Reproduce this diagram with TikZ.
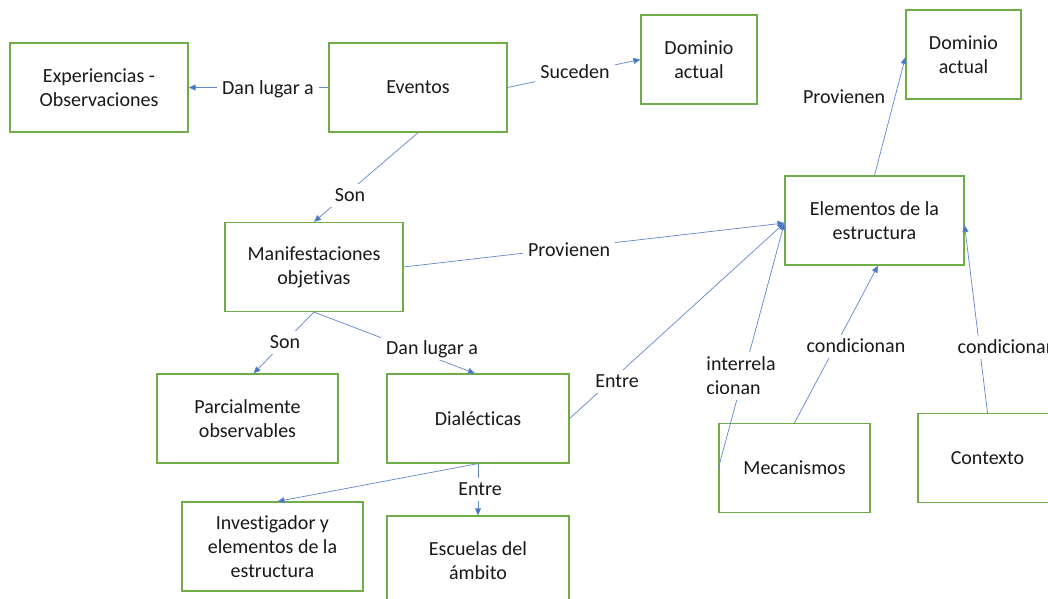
\documentclass[tikz,border=0pt]{standalone}
\usepackage{fontspec}
\setmainfont{Carlito}[Ligatures={NoCommon}]
\usetikzlibrary{arrows.meta,calc}
\definecolor{boxgreen}{HTML}{70AD47}
\definecolor{lineblue}{HTML}{4472C4}
\begin{document}
\begin{tikzpicture}[x=1pt,y=-1pt,
  box/.style={draw=boxgreen,line width=1.2pt,align=center,inner sep=2pt,
    font=\fontsize{20}{24}\selectfont,text=black!90,minimum height=89pt},
  conn/.style={draw=lineblue!85,line width=0.7pt,-{Triangle[length=7pt,width=6pt,fill=lineblue]}},
  lblbase/.style={fill=white,inner sep=5pt,font=\fontsize{20}{24}\selectfont,text=black!90},
  lbl/.style={lblbase,text height=13pt,text depth=0pt}]
\useasboundingbox (0,0) rectangle (1048,598);
\clip (0,0) rectangle (1048,598);
\fill[white] (0,0) rectangle (1048,598);

\node[box,minimum width=178pt] (ex) at (99,87.5) {Experiencias -\\Observaciones};
\node[box,minimum width=178pt] (ev) at (418,87.5) {Eventos};
\node[box,minimum width=116pt] (d1) at (699,59.5) {Dominio\\actual};
\node[box,minimum width=115pt] (d2) at (963.5,54.5) {Dominio\\actual};
\node[box,minimum width=179pt] (el) at (874.5,220.5) {Elementos de la\\estructura};
\node[box,minimum width=178pt] (mf) at (314,267) {Manifestaciones\\objetivas};
\node[box,minimum width=181pt] (pa) at (247.5,418.5) {Parcialmente\\observables};
\node[box,minimum width=182pt] (di) at (478,418.5) {Dialécticas};
\node[box,minimum width=181pt] (iv) at (272.5,546.5) {Investigador y\\elementos de la\\estructura};
\node[box,minimum width=182pt] (es) at (478,560.5) {Escuelas del\\ámbito};
\node[box,minimum width=151pt] (me) at (794.5,468) {Mecanismos};
\node[box,minimum width=139pt] (co) at (987.5,458) {Contexto};

\draw[conn] (ev.west) -- (ex.east);
\draw[conn] (ev.east) -- (d1.west);
\draw[conn] (ev.south) -- (mf.north);
\draw[conn] (mf.east) -- ([yshift=-2.5pt]el.west);
\draw[conn] (mf.south) -- ([xshift=6pt]pa.north);
\draw[conn] (mf.south) -- ([xshift=-3pt]di.north);
\draw[conn] (di.east) -- ([yshift=-2.5pt]el.west);
\draw[conn] (di.south) -- ([xshift=5pt]iv.north);
\draw[conn] (di.south) -- (es.north);
\draw[conn] (me.west) -- ([yshift=-2.5pt]el.west);
\draw[conn] (me.north) -- ([xshift=3.5pt]el.south);
\draw[conn] (co.north) -- ([yshift=-4.5pt]el.east);
\draw[conn] (el.north) -- ([yshift=-2.5pt]d2.west);

\node[lbl] (l1) at (268,88) {Dan lugar a};
\node[lbl] (l2) at (575,72) {Suceden};
\node[lbl] (l3) at (350,195) {Son};
\node[lbl] (l4) at (569,250) {Provienen};
\node[lbl] (l5) at (285,342) {Son};
\node[lbl] (l6) at (432,348) {Dan lugar a};
\node[lbl] (l7) at (617,381) {Entre};
\node[lbl] (l8) at (480,489) {Entre};
\node[lblbase,align=left] (l9) at (741,376) {interrela\\cionan};
\node[lbl] (l10) at (856,346) {condicionan};
\node[lbl] (l11) at (1007,347) {condicionan};
\node[lbl] (l12) at (844,97) {Provienen};
\end{tikzpicture}
\end{document}
